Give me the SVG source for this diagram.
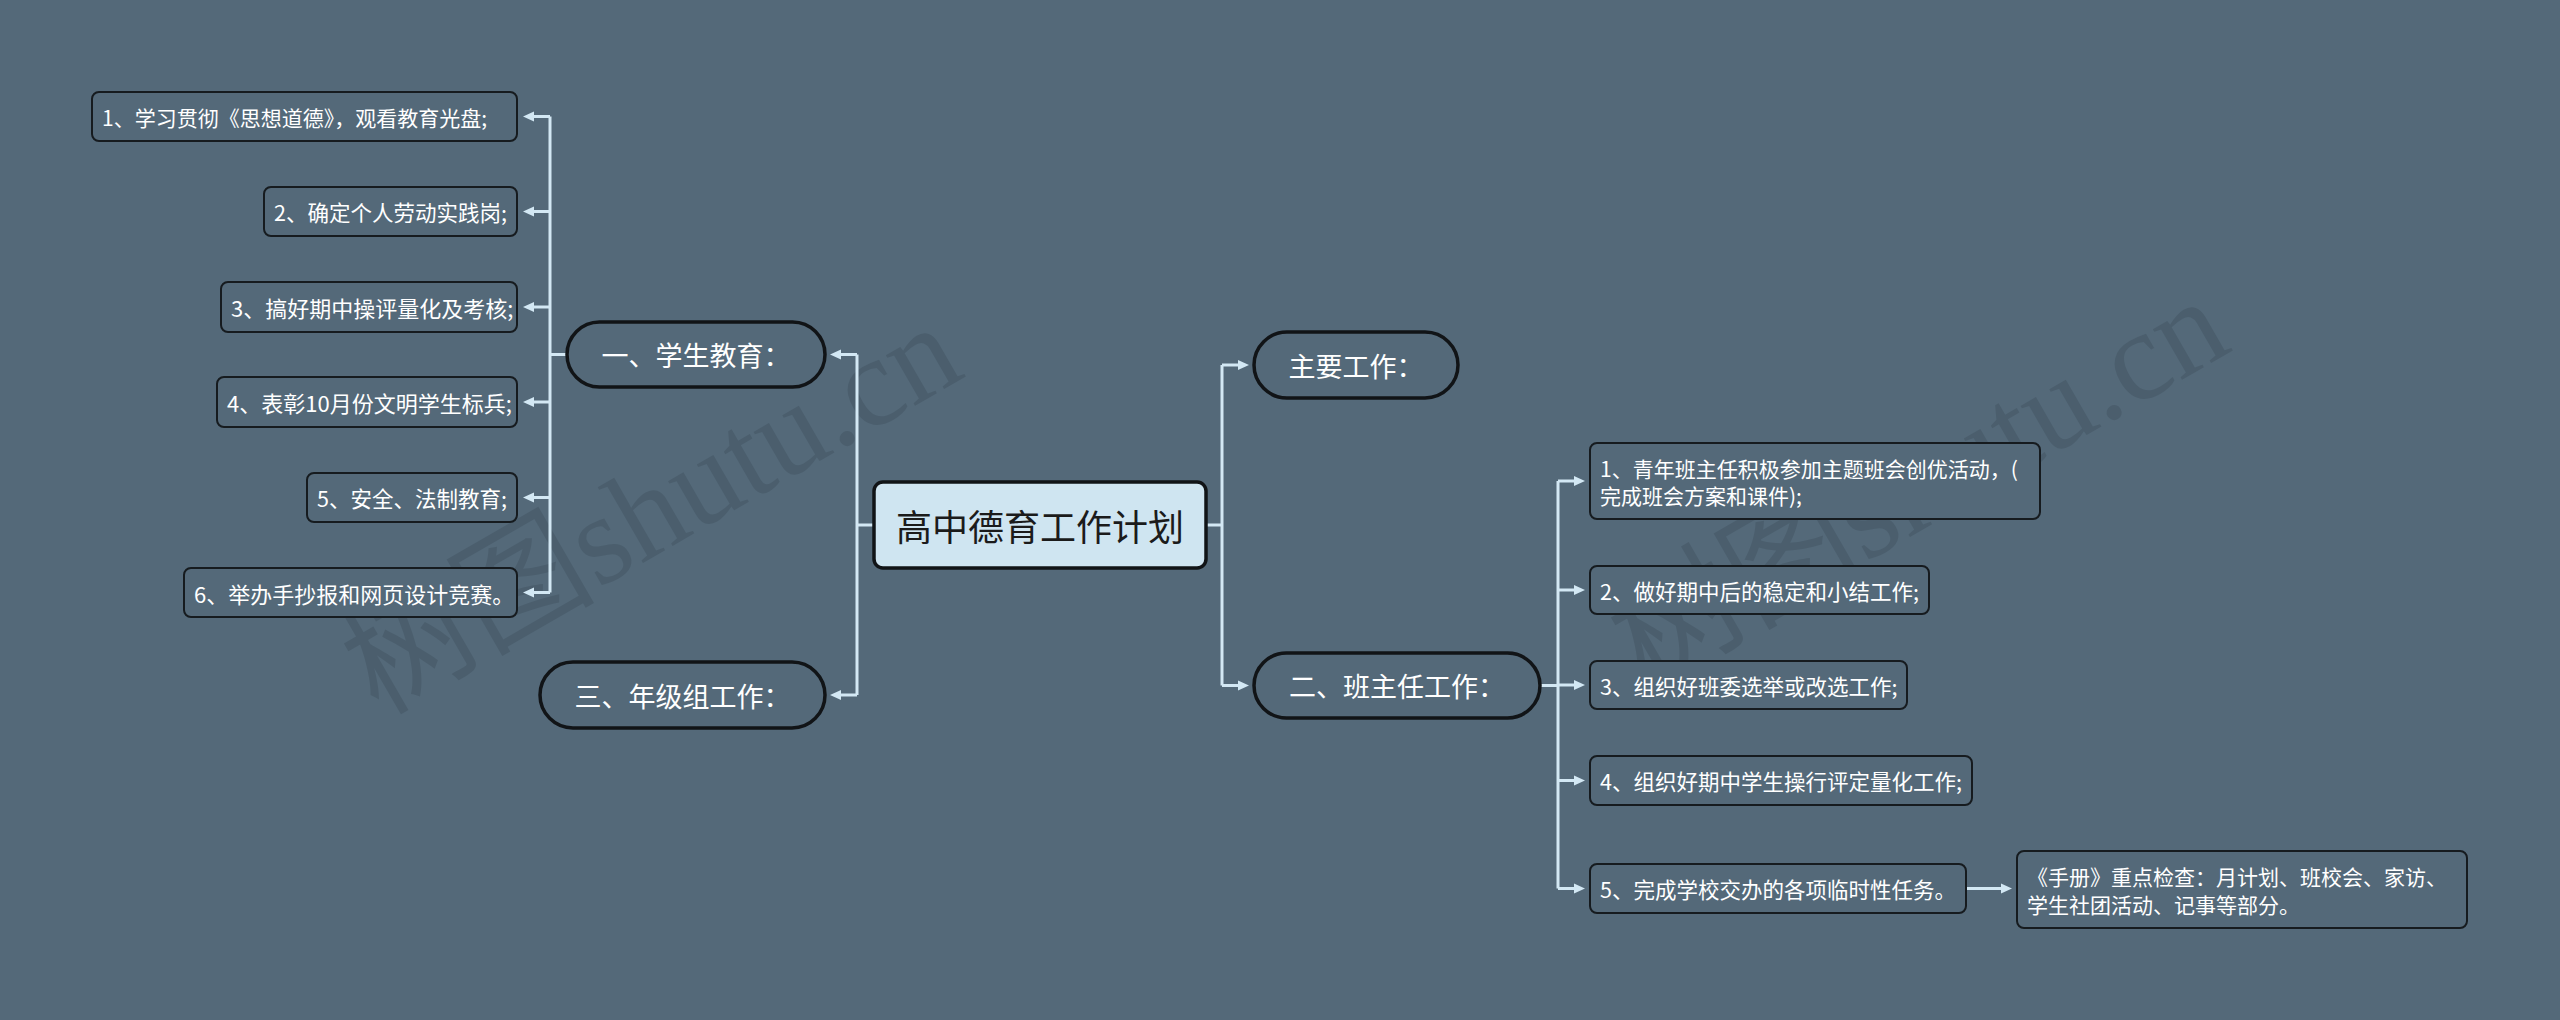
<svg xmlns="http://www.w3.org/2000/svg" width="2560" height="1020" viewBox="0 0 2560 1020">
<defs>
<style>
.bg{fill:#546979}
.box{fill:#546979;stroke:#161b1f;stroke-width:2}
.pill{fill:#546979;stroke:#111417;stroke-width:3.5}
.root{fill:#cfe5f1;stroke:#111417;stroke-width:3.5}
.t{font-family:"Noto Sans CJK SC","Noto Sans",sans-serif;fill:#ffffff;font-size:21.5px;dominant-baseline:central}
.s21{font-size:21px}
.s22{font-size:22px}
.tp{font-family:"Noto Sans CJK SC","Noto Sans",sans-serif;fill:#ffffff;font-size:27px;dominant-baseline:central;text-anchor:middle}
.tr{font-family:"Noto Sans CJK SC","Noto Sans",sans-serif;fill:#1b1b1b;font-size:36px;dominant-baseline:central;text-anchor:middle}
.c{fill:none;stroke:#d3e8f4;stroke-width:3}
.wm{font-family:"Liberation Serif","Noto Sans CJK SC",serif;font-size:127px;fill:#2c3a45;opacity:0.22}
</style>
<marker id="ah" markerUnits="userSpaceOnUse" markerWidth="12" markerHeight="12" refX="0" refY="5" orient="auto" viewBox="0 0 12 10">
<path d="M0,0 L11,5 L0,10 z" fill="#d3e8f4"/>
</marker>
</defs>
<rect class="bg" x="0" y="0" width="2560" height="1020"/>

<g id="watermark">
<text class="wm" x="378" y="716" transform="rotate(-30 378 716)">树图shutu.cn</text>
<text class="wm" x="1645" y="690" transform="rotate(-30 1645 690)">树图shutu.cn</text>
</g>

<g id="connectors">
<path class="c" d="M874 525 H857 M857 354.5 V695"/>
<path class="c" d="M857 354.5 H841" marker-end="url(#ah)"/>
<path class="c" d="M857 695 H841" marker-end="url(#ah)"/>
<path class="c" d="M567 354.5 H550 M550 116.5 V592.5"/>
<path class="c" d="M550 116.5 H534" marker-end="url(#ah)"/>
<path class="c" d="M550 211.5 H534" marker-end="url(#ah)"/>
<path class="c" d="M550 307 H534" marker-end="url(#ah)"/>
<path class="c" d="M550 402 H534" marker-end="url(#ah)"/>
<path class="c" d="M550 497.5 H534" marker-end="url(#ah)"/>
<path class="c" d="M550 592.5 H534" marker-end="url(#ah)"/>
<path class="c" d="M1206 525 H1222 M1222 365 V685.5"/>
<path class="c" d="M1222 365 H1238" marker-end="url(#ah)"/>
<path class="c" d="M1222 685.5 H1238" marker-end="url(#ah)"/>
<path class="c" d="M1540 685.5 H1558 M1558 481 V888.5"/>
<path class="c" d="M1558 481 H1574" marker-end="url(#ah)"/>
<path class="c" d="M1558 590 H1574" marker-end="url(#ah)"/>
<path class="c" d="M1558 685 H1574" marker-end="url(#ah)"/>
<path class="c" d="M1558 780.5 H1574" marker-end="url(#ah)"/>
<path class="c" d="M1558 888.5 H1574" marker-end="url(#ah)"/>
<path class="c" d="M1966 888.5 H2001" marker-end="url(#ah)"/>
</g>

<g id="root">
<rect class="root" x="874" y="482" width="332" height="86" rx="9"/>
<text class="tr" x="1040" y="525">高中德育工作计划</text>
</g>

<g id="n-xuesheng">
<rect class="pill" x="567" y="322" width="258" height="65" rx="32.5"/>
<text class="tp" x="696" y="354.5">一、学生教育：</text>
</g>
<g id="n-nianji">
<rect class="pill" x="540" y="662" width="285" height="66" rx="33"/>
<text class="tp" x="682.5" y="695">三、年级组工作：</text>
</g>
<g id="n-zhuyao">
<rect class="pill" x="1254" y="332" width="204" height="66" rx="33"/>
<text class="tp" x="1356" y="365">主要工作：</text>
</g>
<g id="n-banzhuren">
<rect class="pill" x="1254" y="653" width="286" height="65" rx="32.5"/>
<text class="tp" x="1397" y="685.5">二、班主任工作：</text>
</g>

<g id="l1">
<rect class="box" x="92" y="92" width="425" height="49" rx="7"/>
<text class="t s21" x="102" y="116.5">1、学习贯彻《思想道德》，观看教育光盘;</text>
</g>
<g id="l2">
<rect class="box" x="264" y="187" width="253" height="49" rx="7"/>
<text class="t" x="274" y="211.5">2、确定个人劳动实践岗;</text>
</g>
<g id="l3">
<rect class="box" x="221" y="282" width="296" height="50" rx="7"/>
<text class="t s22" x="231" y="307">3、搞好期中操评量化及考核;</text>
</g>
<g id="l4">
<rect class="box" x="217" y="377" width="300" height="50" rx="7"/>
<text class="t s22" x="227" y="402">4、表彰10月份文明学生标兵;</text>
</g>
<g id="l5">
<rect class="box" x="307" y="473" width="210" height="49" rx="7"/>
<text class="t" x="317" y="497.5">5、安全、法制教育;</text>
</g>
<g id="l6">
<rect class="box" x="184" y="568" width="333" height="49" rx="7"/>
<text class="t s22" x="194" y="592.5">6、举办手抄报和网页设计竞赛。</text>
</g>

<g id="r1">
<rect class="box" x="1590" y="443" width="450" height="76" rx="7"/>
<text class="t s21" x="1600" y="468">1、青年班主任积极参加主题班会创优活动，(</text>
<text class="t s21" x="1600" y="495">完成班会方案和课件);</text>
</g>
<g id="r2">
<rect class="box" x="1590" y="566" width="339" height="48" rx="7"/>
<text class="t" x="1600" y="590">2、做好期中后的稳定和小结工作;</text>
</g>
<g id="r3">
<rect class="box" x="1590" y="661" width="317" height="48" rx="7"/>
<text class="t" x="1600" y="685">3、组织好班委选举或改选工作;</text>
</g>
<g id="r4">
<rect class="box" x="1590" y="756" width="382" height="49" rx="7"/>
<text class="t" x="1600" y="780.5">4、组织好期中学生操行评定量化工作;</text>
</g>
<g id="r5">
<rect class="box" x="1590" y="864" width="376" height="49" rx="7"/>
<text class="t" x="1600" y="888.5">5、完成学校交办的各项临时性任务。</text>
</g>
<g id="r5a">
<rect class="box" x="2017" y="851" width="450" height="77" rx="7"/>
<text class="t s21" x="2027" y="876">《手册》重点检查：月计划、班校会、家访、</text>
<text class="t s21" x="2027" y="904">学生社团活动、记事等部分。</text>
</g>
</svg>
